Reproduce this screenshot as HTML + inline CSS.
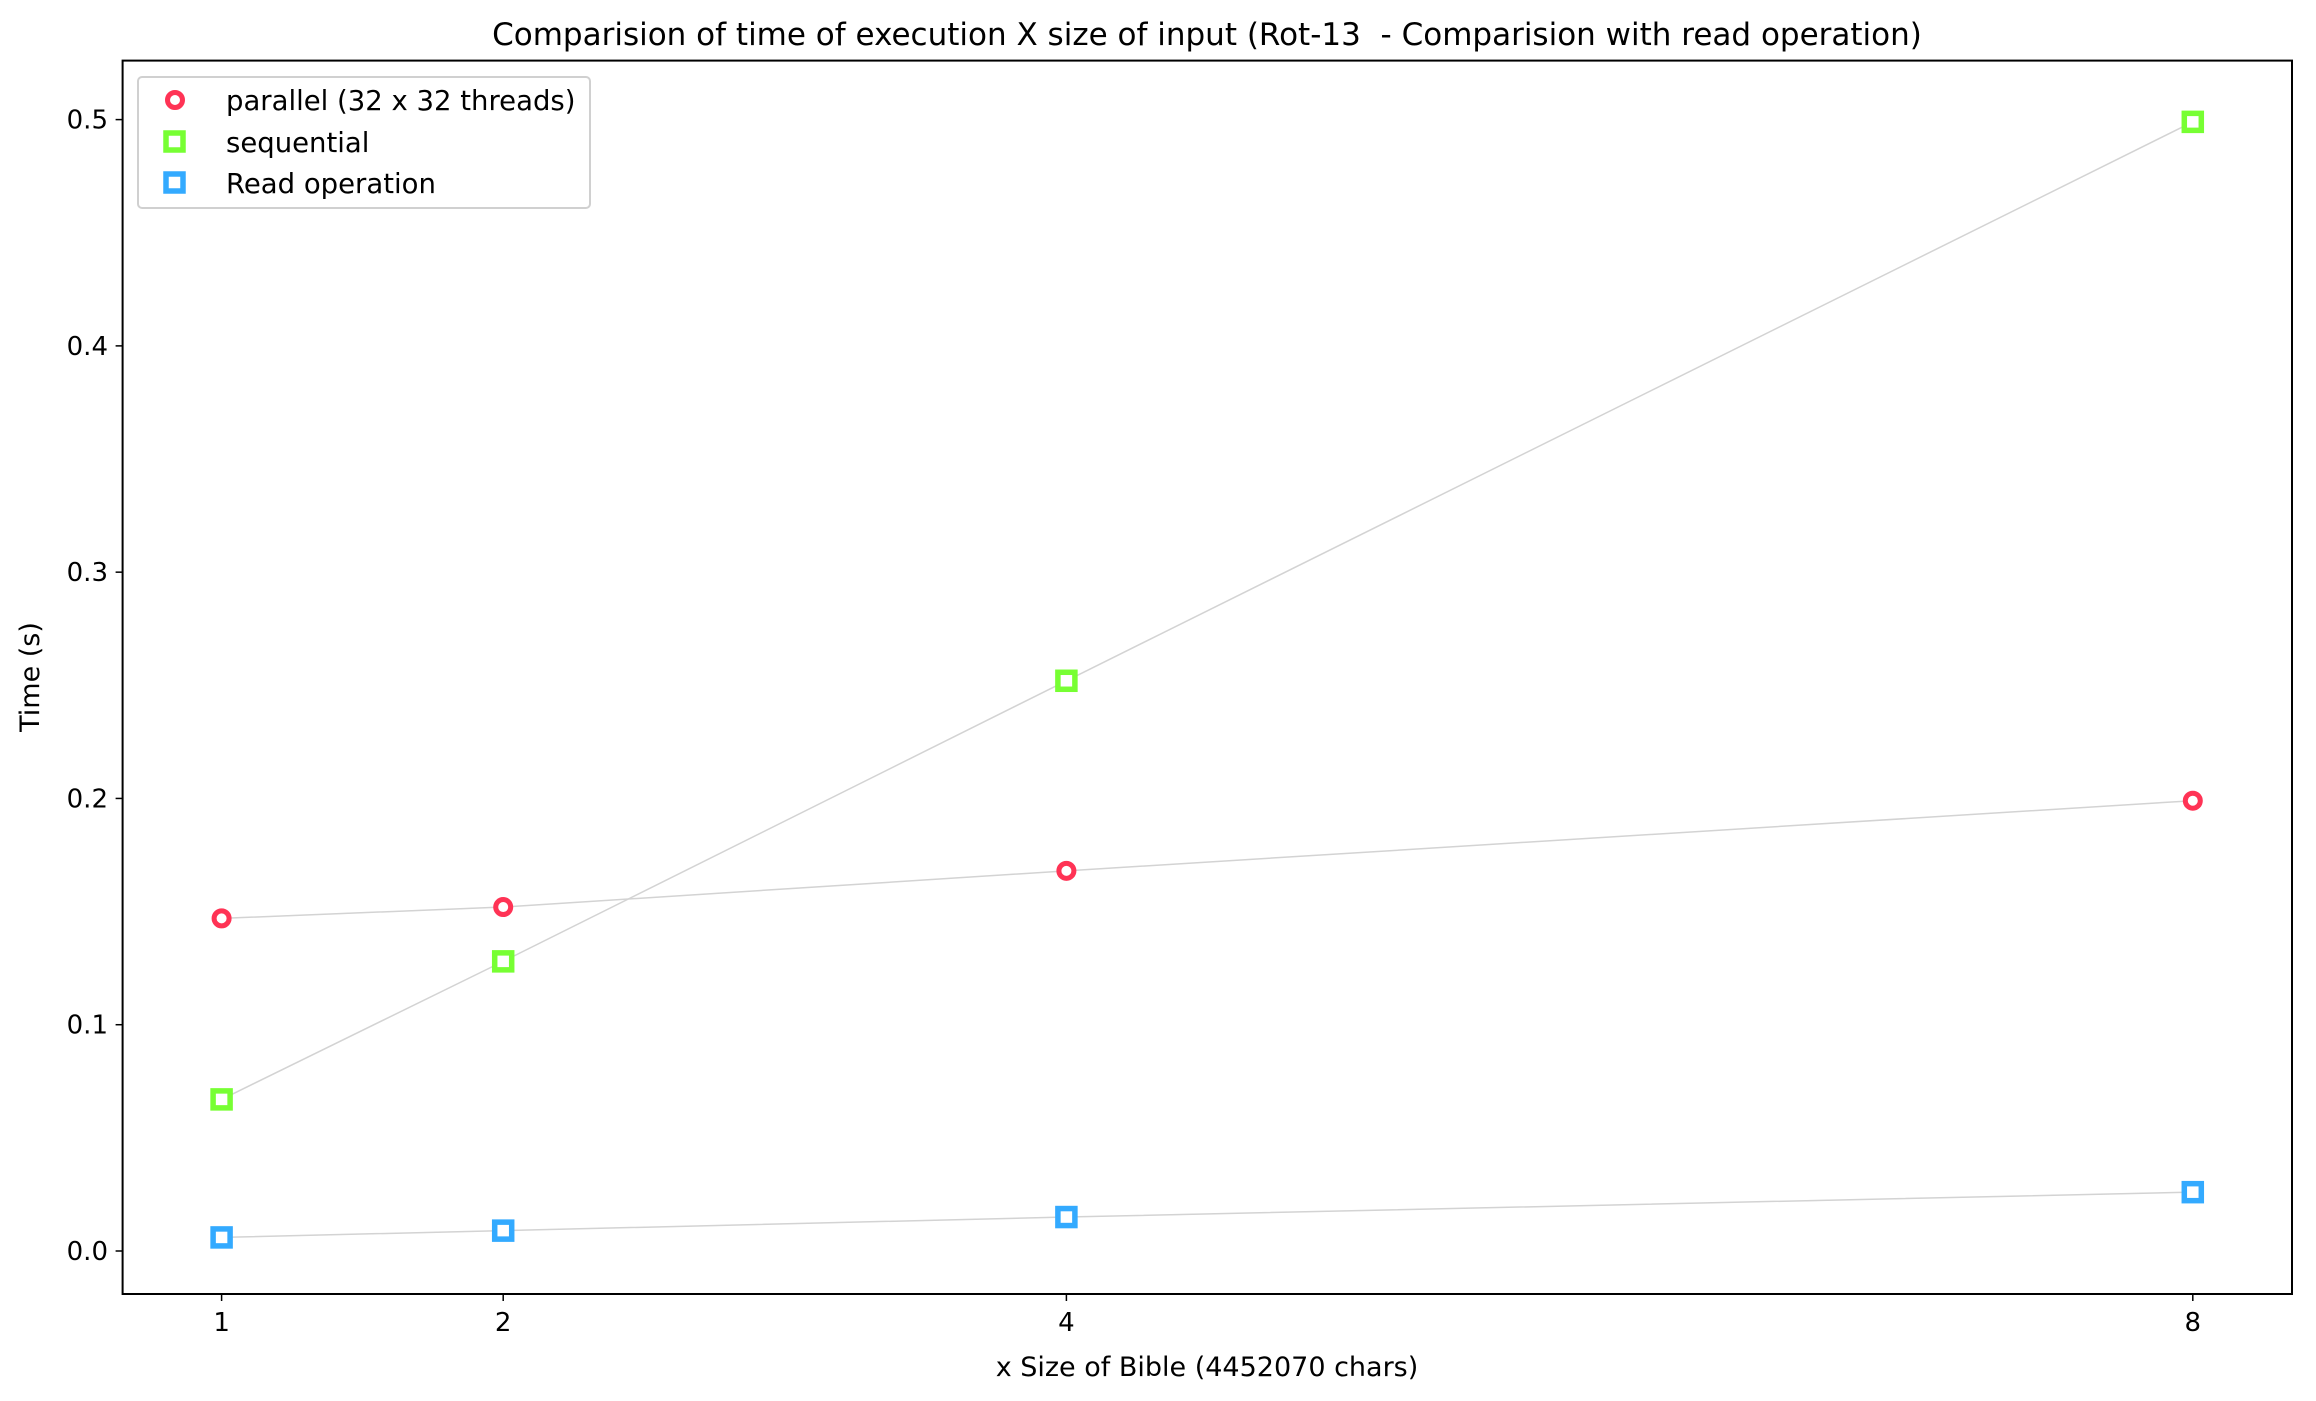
<!DOCTYPE html>
<html><head><meta charset="utf-8"><style>
html,body{margin:0;padding:0;background:#fff;}
svg{display:block;font-family:"DejaVu Sans","Liberation Sans",sans-serif;}
</style></head><body>
<svg id="chart" width="2316" height="1401" viewBox="0 0 2316 1401">
<rect width="2316" height="1401" fill="#fff"/>
<text x="1207" y="45" font-size="31" text-anchor="middle" xml:space="preserve">Comparision of time of execution X size of input (Rot-13  - Comparision with read operation)</text>
<g id="lines"></g><g id="marks"></g><g id="axes"></g>
<rect x="122.6" y="60.6" width="2169.4" height="1233.4" fill="none" stroke="#000" stroke-width="2"/>
<text x="1207" y="1376" font-size="27" text-anchor="middle">x Size of Bible (4452070 chars)</text>
<text x="0" y="0" font-size="27" text-anchor="middle" transform="translate(39,677) rotate(-90)">Time (s)</text>
<g>
<rect x="138" y="77" width="452" height="131" rx="4" fill="#fff" stroke="#d0d0d0" stroke-width="2"/>
<circle cx="175" cy="100" r="7.5" fill="#fff" stroke="#ff3355" stroke-width="5"/>
<text x="226" y="110" font-size="27.5">parallel (32 x 32 threads)</text>
<rect x="166" y="133" width="17" height="17" fill="#fff" stroke="#77ff33" stroke-width="5.5"/>
<text x="226" y="152" font-size="27.5">sequential</text>
<rect x="166" y="174" width="17" height="17" fill="#fff" stroke="#33aaff" stroke-width="5.5"/>
<text x="226" y="193" font-size="27.5">Read operation</text>
</g>
</svg>
<script>
const xValues = [1, 2, 4, 8];
const parallelTimes = [0.147, 0.152, 0.168, 0.199];
const sequentialTimes = [0.067, 0.128, 0.252, 0.499];
const readTimes = [0.006, 0.009, 0.015, 0.026];
const xTickLabels = ["1", "2", "4", "8"];
const yTickValues = [0.0, 0.1, 0.2, 0.3, 0.4, 0.5];
const yTickLabels = ["0.0", "0.1", "0.2", "0.3", "0.4", "0.5"];

const NS = "http://www.w3.org/2000/svg";
function xs(v){ return 221.6 + (v - 1) * 281.6; }
function ys(v){ return 1251 - v * 2262.8; }
function mk(tag, attrs, parent){
  const e = document.createElementNS(NS, tag);
  for (const k in attrs) e.setAttribute(k, attrs[k]);
  parent.appendChild(e); return e;
}
const axes = document.getElementById('axes');
const lines = document.getElementById('lines');
const marks = document.getElementById('marks');
xValues.forEach((v, i) => {
  const t = mk('line', {x1: xs(v), x2: xs(v), y1: 1294, y2: 1301, stroke: '#000', 'stroke-width': 1.5}, axes);
  
  
  const l = mk('text', {x: xs(v), y: 1331, 'font-size': 26, 'text-anchor': 'middle'}, axes);
  l.textContent = xTickLabels[i];
  
  
});
yTickValues.forEach((v, i) => {
  const t = mk('line', {x1: 115.6, x2: 122.6, y1: ys(v), y2: ys(v), stroke: '#000', 'stroke-width': 1.5}, axes);
  
  
  const l = mk('text', {x: 108, y: ys(v) + 9, 'font-size': 26, 'text-anchor': 'end'}, axes);
  l.textContent = yTickLabels[i];
  
  
});
const series = [
  {name: 'parallel', vals: parallelTimes, color: '#ff3355', shape: 'circle'},
  {name: 'sequential', vals: sequentialTimes, color: '#77ff33', shape: 'square'},
  {name: 'read', vals: readTimes, color: '#33aaff', shape: 'square'}
];
series.forEach(s => {
  const pts = xValues.map((x, i) => xs(x) + ',' + ys(s.vals[i])).join(' ');
  const pl = mk('polyline', {points: pts, fill: 'none', stroke: '#d3d3d3', 'stroke-width': 1.5}, lines);
  
  
  xValues.forEach((x, i) => {
    let m;
    if (s.shape === 'circle') {
      m = mk('circle', {cx: xs(x), cy: ys(s.vals[i]), r: 7.5, fill: '#fff', stroke: s.color, 'stroke-width': 5}, marks);
    } else {
      m = mk('rect', {x: xs(x) - 8.5, y: ys(s.vals[i]) - 8.5, width: 17, height: 17, fill: '#fff', stroke: s.color, 'stroke-width': 5.5}, marks);
    }
    
    
  });
});
</script>
</body></html>
